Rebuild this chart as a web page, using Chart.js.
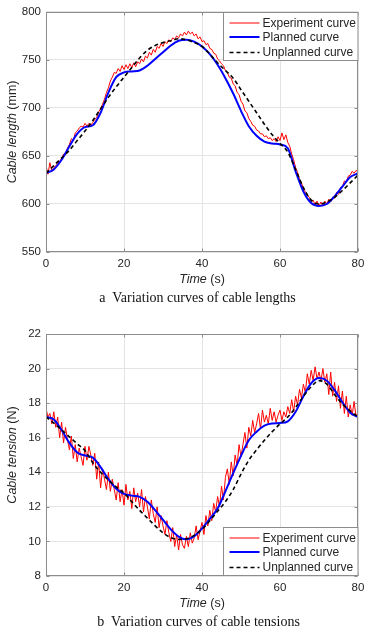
<!DOCTYPE html>
<html>
<head>
<meta charset="utf-8">
<script src="https://cdn.jsdelivr.net/npm/chart.js@4.4.1/dist/chart.umd.min.js"></script>
<style>
  html, body { margin: 0; padding: 0; background: #fff; }
  body { width: 373px; height: 630px; position: relative; overflow: hidden; }
  canvas { position: absolute; left: 0; }
  #lenCanvas { top: 0; }
  #tenCanvas { top: 310px; }
  .caption {
    position: absolute; width: 373px; text-align: center;
    font-family: 'Liberation Serif', 'Times New Roman', serif;
    font-size: 14px; line-height: 16px; color: #111; white-space: pre;
  }
</style>
</head>
<body>
<canvas id="lenCanvas" width="373" height="310"></canvas>
<canvas id="tenCanvas" width="373" height="320"></canvas>
<div class="caption" style="top:290px; left:11px">a  Variation curves of cable lengths</div>
<div class="caption" style="top:614px; left:12px">b  Variation curves of cable tensions</div>

<script>
// ---- data ----

// planned / unplanned curves sampled every 2 s
const timeCoarse = [0, 2, 4, 6, 8, 10, 12, 14, 16, 18, 20, 22, 24, 26, 28, 30, 32, 34, 36, 38, 40,
    42, 44, 46, 48, 50, 52, 54, 56, 58, 60, 62, 64, 66, 68, 70, 72, 74, 76, 78, 80];
// experiment curve sampled every 0.5 s
const EXP_STEP = 0.5;

const timeTicks = [0, 20, 40, 60, 80];
const lengthTicks = [550, 600, 650, 700, 750, 800];
const tensionTicks = [8, 10, 12, 14, 16, 18, 20, 22];
const legendLabels = ['Experiment curve', 'Planned curve', 'Unplanned curve'];

// (a) cable length, mm
const lengthPlanned = [632, 636, 646, 660, 673, 680, 682, 695, 716, 732, 737, 738, 739, 744, 751, 758, 765, 770, 771, 769, 764,
    756, 745, 731, 715, 697, 681, 671, 665, 663, 662, 658, 634, 613, 601, 598, 600, 608, 618, 628, 632];
const lengthUnplanned = [632, 640, 648, 656, 666, 676, 687, 699, 711, 722, 732, 742, 752, 760, 765, 768, 770, 772, 771, 768, 764,
    756, 747, 739, 731, 719, 707, 695, 683, 672, 663, 654, 636, 617, 604, 600, 602, 607, 614, 622, 630];
const lengthExperiment = [
    640, 631, 643, 634, 638,
    640, 642, 645, 647,   652, 651, 658, 662,   668, 666, 674, 676,   679, 681, 680, 684,
    681, 684, 682, 685,   688, 690, 696, 699,   704, 709, 716, 721,   728, 732, 737, 736,
    741, 738, 744, 740,   745, 741, 746, 742,   747, 743, 748, 746,   751, 748, 754, 752,
    758, 755, 761, 758,   764, 762, 767, 764,   769, 767, 771, 769,   773, 771, 775, 773,
    777, 775, 779, 776,   780, 777, 779, 775,   777, 772, 774, 769,   770, 766, 767, 762,
    761, 757, 756, 751,   749, 746, 744, 739,   737, 732, 731, 725,   723, 716, 714, 707,
    704, 697, 695, 689,   686, 682, 681, 677,   676, 673, 673, 670,   671, 668, 669, 666,
    668, 665, 670, 666,   674, 667, 672, 664,   660, 652, 646, 638,   633, 626, 622, 616,
    613, 609, 607, 603,   604, 599, 603, 598,   602, 598, 603, 600,   605, 602, 607, 606,
    612, 610, 617, 618,   624, 623, 629, 630,   634, 632, 635, 633
];

// (b) cable tension, N
const tensionPlanned = [17.2, 17.05, 16.45, 15.7, 15.15, 14.97, 14.85, 14.3, 13.6, 13.05, 12.75, 12.65, 12.58, 12.3, 11.8, 11.25,
    10.7, 10.28, 10.12, 10.3, 10.75, 11.3, 11.9, 12.9, 13.95, 14.95, 15.85, 16.35, 16.7, 16.82, 16.85, 16.95, 17.5, 18.4,
    19.15, 19.45, 19.3, 18.75, 18.05, 17.45, 17.2];
const tensionUnplanned = [17.2, 16.85, 16.45, 16.05, 15.65, 15.25, 14.55, 14.0, 13.55, 13.15, 12.8, 12.3, 11.8, 11.35, 10.9, 10.5,
    10.22, 10.12, 10.15, 10.35, 10.7, 11.2, 11.75, 12.3, 13.0, 13.9, 14.7, 15.3, 15.85, 16.35, 16.8, 17.2, 17.75, 18.4,
    18.95, 19.3, 19.1, 18.5, 17.95, 17.55, 17.2];
const tensionExperiment = [
    17.7, 17.2, 17.4, 16.8, 17.5,
    16.6, 17.2, 16.0, 16.9,   15.7, 16.6, 15.9, 15.3,   16.1, 14.8, 15.6, 14.6,   15.4, 14.9, 14.4, 15.5,
    14.7, 15.5, 15.0, 14.4,   15.1, 13.6, 14.6, 13.1,   14.2, 13.6, 13.0, 14.0,   12.9, 13.6, 13.0, 12.4,
    13.4, 12.3, 13.0, 12.1,   13.3, 12.4, 12.9, 11.9,   13.1, 12.3, 12.8, 12.0,   13.0, 11.7, 12.6, 12.0,
    11.3, 12.4, 11.6, 11.1,   12.0, 10.8, 11.5, 10.9,   10.4, 11.2, 10.5, 10.0,   10.8, 9.7, 10.4, 9.5,
    10.4, 9.8, 9.6, 10.3,     9.7, 10.5, 9.9, 10.2,     10.9, 10.1, 10.6, 11.1,   10.4, 11.5, 10.9, 11.8,
    11.2, 12.2, 11.7, 12.6,   12.0, 13.2, 12.4, 13.7,   14.2, 13.3, 14.6, 13.8,   15.0, 14.4, 15.6, 14.9,
    15.6, 16.3, 15.4, 16.6,   16.1, 17.0, 16.3, 16.8,   17.4, 16.5, 17.6, 16.9,   17.3, 16.8, 17.7, 17.0,
    17.5, 16.9, 17.3, 17.6,   17.0, 17.5, 17.2, 17.8,   17.4, 18.2, 17.5, 18.4,   17.9, 18.8, 18.3, 19.1,
    18.6, 19.7, 19.1, 19.9,   19.3, 20.1, 19.4, 19.8,   19.3, 20.0, 19.2, 19.7,   18.5, 19.8, 18.4, 19.2,
    18.1, 19.0, 17.7, 18.7,   17.4, 18.4, 17.2, 17.9,   17.3, 18.1, 17.2, 17.5
];

// ---- helpers ----
const SANS = "'Liberation Sans', Arial, sans-serif";
Chart.defaults.font.family = SANS;
Chart.defaults.color = '#262626';

const pairUp = (xs, ys) => ys.map((y, i) => ({ x: xs[i], y }));
const pairStep = ys => ys.map((y, i) => ({ x: i * EXP_STEP, y }));

// MATLAB-like box with inward ticks
const matlabFrame = {
    id: 'matlabFrame',
    afterDatasetsDraw(chart) {
        const { ctx, chartArea: a, scales } = chart;
        const L = Math.round(a.left) + 0.5, R = Math.round(a.right) - 0.5;
        const T = Math.round(a.top) + 0.5, B = Math.round(a.bottom) - 0.5;
        ctx.save();
        ctx.strokeStyle = '#8c8c8c';
        ctx.lineWidth = 1;
        ctx.beginPath();
        scales.x.ticks.forEach(t => {
            const px = Math.round(scales.x.getPixelForValue(t.value)) + 0.5;
            ctx.moveTo(px, B); ctx.lineTo(px, B - 3);
            ctx.moveTo(px, T); ctx.lineTo(px, T + 3);
        });
        scales.y.ticks.forEach(t => {
            const py = Math.round(scales.y.getPixelForValue(t.value)) + 0.5;
            ctx.moveTo(L, py); ctx.lineTo(L + 3, py);
            ctx.moveTo(R, py); ctx.lineTo(R - 3, py);
        });
        ctx.stroke();
        ctx.strokeRect(L, T, R - L, B - T);
        ctx.restore();
    }
};

// legend box drawn inside the plot area
const boxLegend = {
    id: 'boxLegend',
    afterDatasetsDraw(chart, args, opts) {
        const { ctx, chartArea: a } = chart;
        const w = 135, h = 48;
        const x0 = Math.round(a.right - w) + 0.5;
        const y0 = opts.position === 'top' ? Math.round(a.top) + 0.5 : Math.round(a.bottom - h) - 0.5;
        const rows = [10.5, 24.5, 40];
        ctx.save();
        ctx.fillStyle = '#fff';
        ctx.fillRect(x0, y0, w, h);
        ctx.strokeStyle = '#8c8c8c';
        ctx.lineWidth = 1;
        ctx.strokeRect(x0, y0, w - 0.5, h);
        ctx.font = '12px ' + SANS;
        ctx.textBaseline = 'middle';
        chart.data.datasets.forEach((ds, i) => {
            const y = y0 + rows[i];
            ctx.strokeStyle = ds.borderColor;
            ctx.lineWidth = ds.borderWidth;
            ctx.setLineDash(ds.borderDash || []);
            ctx.beginPath();
            ctx.moveTo(x0 + 6, y);
            ctx.lineTo(x0 + 36, y);
            ctx.stroke();
            ctx.setLineDash([]);
            ctx.fillStyle = '#262626';
            ctx.fillText(ds.label, x0 + 39, y + 0.5);
        });
        ctx.restore();
    }
};

// axis titles with an italic word followed by plain units
function drawMixed(ctx, italic, plain, x, y) {
    ctx.font = 'italic 12.5px ' + SANS;
    const w1 = ctx.measureText(italic).width;
    ctx.font = '12.5px ' + SANS;
    const w2 = ctx.measureText(plain).width;
    let sx = x - (w1 + w2) / 2;
    ctx.font = 'italic 12.5px ' + SANS;
    ctx.fillText(italic, sx, y);
    ctx.font = '12.5px ' + SANS;
    ctx.fillText(plain, sx + w1, y);
}

const axisTitles = {
    id: 'axisTitles',
    afterDraw(chart, args, opts) {
        const { ctx, chartArea: a } = chart;
        ctx.save();
        ctx.fillStyle = '#262626';
        ctx.textBaseline = 'middle';
        ctx.textAlign = 'left';
        drawMixed(ctx, 'Time', ' (s)', (a.left + a.right) / 2, a.bottom + 28);
        ctx.translate(13, (a.top + a.bottom) / 2);
        ctx.rotate(-Math.PI / 2);
        drawMixed(ctx, opts.yItalic, opts.yPlain, 0, 0);
        ctx.restore();
    }
};

function makeChart(id, cfg) {
    const datasets = [
        {
            label: legendLabels[0],
            data: pairStep(cfg.experiment),
            borderColor: '#ff0000',
            borderWidth: 1,
            pointRadius: 0,
            tension: 0,
            order: 3
        },
        {
            label: legendLabels[1],
            data: pairUp(timeCoarse, cfg.planned),
            borderColor: '#0000ff',
            borderWidth: 2,
            pointRadius: 0,
            cubicInterpolationMode: 'monotone',
            order: 2
        },
        {
            label: legendLabels[2],
            data: pairUp(timeCoarse, cfg.unplanned),
            borderColor: '#000000',
            borderWidth: 1.6,
            borderDash: [4, 3],
            pointRadius: 0,
            cubicInterpolationMode: 'monotone',
            order: 1
        }
    ];

    return new Chart(document.getElementById(id), {
        type: 'line',
        data: { datasets },
        plugins: [matlabFrame, boxLegend, axisTitles],
        options: {
            responsive: false,
            animation: false,
            devicePixelRatio: 1,
            layout: { padding: cfg.padding },
            plugins: {
                legend: { display: false },
                tooltip: { enabled: false },
                boxLegend: { position: cfg.legendPos },
                axisTitles: { yItalic: cfg.yItalic, yPlain: cfg.yPlain }
            },
            scales: {
                x: {
                    type: 'linear',
                    min: 0,
                    max: 80,
                    afterBuildTicks: s => { s.ticks = timeTicks.map(v => ({ value: v })); },
                    afterFit: s => { s.height = 20; },
                    ticks: { font: { size: 11.5 }, color: '#262626', padding: 5, maxRotation: 0 },
                    grid: { color: '#e4e4e4', drawTicks: false },
                    border: { display: false }
                },
                y: {
                    min: cfg.yTicks[0],
                    max: cfg.yTicks[cfg.yTicks.length - 1],
                    afterBuildTicks: s => { s.ticks = cfg.yTicks.map(v => ({ value: v })); },
                    afterFit: s => { s.width = 46; },
                    ticks: { font: { size: 11.5 }, color: '#262626', padding: 5 },
                    grid: { color: '#e4e4e4', drawTicks: false },
                    border: { display: false }
                }
            }
        }
    });
}

makeChart('lenCanvas', {
    experiment: lengthExperiment,
    planned: lengthPlanned,
    unplanned: lengthUnplanned,
    yTicks: lengthTicks,
    yItalic: 'Cable length',
    yPlain: ' (mm)',
    legendPos: 'top',
    padding: { top: 10, right: 15, bottom: 38, left: 0 }
});

makeChart('tenCanvas', {
    experiment: tensionExperiment,
    planned: tensionPlanned,
    unplanned: tensionUnplanned,
    yTicks: tensionTicks,
    yItalic: 'Cable tension',
    yPlain: ' (N)',
    legendPos: 'bottom',
    padding: { top: 24, right: 15, bottom: 34, left: 0 }
});
</script>
</body>
</html>
